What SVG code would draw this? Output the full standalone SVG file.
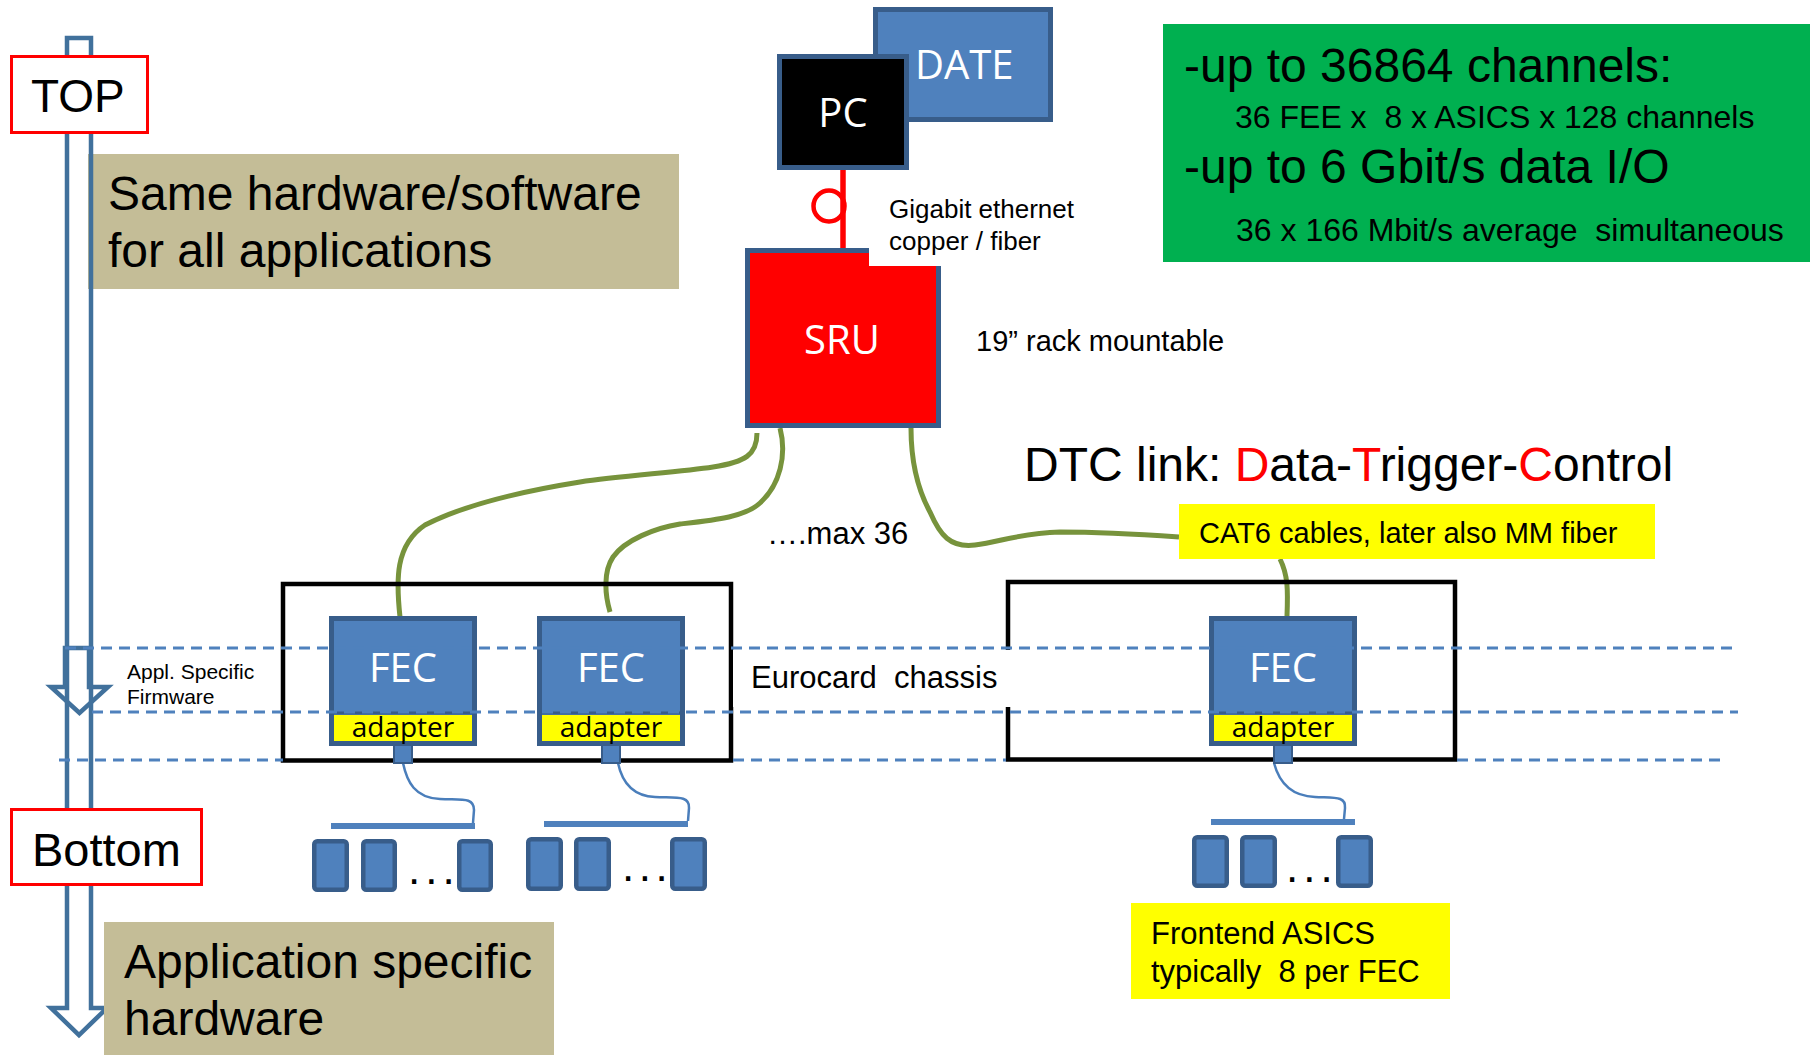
<svg xmlns="http://www.w3.org/2000/svg" width="1810" height="1055" viewBox="0 0 1810 1055">
<style>
.a{font-family:"Liberation Sans",Arial,sans-serif;fill:#000}
.c{font-family:"Open Sans","Noto Sans",sans-serif}
.wt{fill:#fff}
.r{fill:#FF0000}
.box{fill:#4F81BD;stroke:#385D8A;stroke-width:5}
.chip{fill:#4F81BD;stroke:#385D8A;stroke-width:4.5}
.conn{fill:#4F81BD;stroke:#385D8A;stroke-width:2}
.chassis{fill:none;stroke:#000;stroke-width:4.5}
.cable{fill:none;stroke:#77933C;stroke-width:5}
.wire{fill:none;stroke:#4A7EBB;stroke-width:2.5}
.dash{stroke:#4F81BD;stroke-width:3;stroke-dasharray:11 7;fill:none}
.lbl{fill:#fff;stroke:#FF0000;stroke-width:3}
.tan{fill:#C4BD97}
.bus{fill:#4F81BD}
.yel{fill:#FFFF00}
.pre{white-space:pre}
.arrow{fill:none;stroke:#41719C;stroke-width:4.5}
</style>
<rect width="1810" height="1055" fill="#fff"/>

<g id="note-same">
<rect class="tan" x="88" y="154" width="591" height="135"/>
<text class="a" x="108" y="210" font-size="48">Same hardware/software</text>
<text class="a" x="108" y="267" font-size="48">for all applications</text>
</g>

<g id="axis-arrow">
<path class="arrow" d="M67,38 H91 V1008 H107 L79,1035 L51,1008 H67 Z"/>
</g>

<g id="firmware-arrow">
<path class="arrow" d="M65,648 H89 V687 H108 L79.5,713 L51,687 H65 Z"/>
<text class="a" x="127" y="679" font-size="21">Appl. Specific</text>
<text class="a" x="127" y="704" font-size="21">Firmware</text>
</g>

<g id="note-app">
<rect class="tan" x="104" y="922" width="450" height="133"/>
<text class="a" x="124" y="978" font-size="48">Application specific</text>
<text class="a" x="124" y="1035" font-size="48">hardware</text>
</g>

<g id="top-label">
<rect class="lbl" x="11.5" y="56.5" width="136" height="76"/>
<text class="a" x="31" y="112" font-size="46">TOP</text>
</g>

<g id="bottom-label">
<rect class="lbl" x="11.5" y="809.5" width="190" height="75"/>
<text class="a" x="32" y="866" font-size="47">Bottom</text>
</g>

<g id="specs">
<rect x="1163" y="24" width="647" height="238" fill="#00B050"/>
<text class="a" x="1184" y="82" font-size="48">-up to 36864 channels:</text>
<text class="a pre" x="1235" y="128" font-size="32">36 FEE x  8 x ASICS x 128 channels</text>
<text class="a" x="1184" y="183" font-size="48">-up to 6 Gbit/s data I/O</text>
<text class="a pre" x="1236" y="241" font-size="32">36 x 166 Mbit/s average  simultaneous</text>
</g>

<g id="connectors">
<line x1="843" y1="170" x2="843" y2="252" stroke="#FF0000" stroke-width="5.5"/>
<circle cx="829" cy="206" r="15.5" fill="none" stroke="#FF0000" stroke-width="4.5"/>
<path class="cable" d="M757,433 C757,455 745,462 713,467 C680,472 620,476 580,482 C530,490 470,502 425,525 C395,545 396,580 400,617"/>
<path class="cable" stroke-width="7" d="M780,428 C787,455 780,485 760,503 C745,517 715,520 680,524 C655,528 625,540 613,557 C603,572 605,595 610,612"/>
<path class="cable" d="M911,428 C911,460 918,490 930,512 C940,535 950,548 975,545 C1000,542 1020,533 1060,532 C1100,532 1150,535 1179,537"/>
<path class="cable" d="M1280,559 C1288,575 1288,590 1287,616"/>
<path class="wire" d="M403,763 C407,782 415,798 440,799 C462,800 474,797 474,810 L473,823"/>
<path class="wire" d="M618,763 C622,782 632,796 655,797 C675,798 690,795 689,808 L688,821"/>
<path class="wire" d="M1274,763 C1279,782 1290,796 1315,797 C1335,798 1346,796 1345,808 L1344,819"/>
</g>

<g id="date">
<rect class="box" x="875.5" y="9.5" width="175" height="110"/>
<text class="c wt" x="915" y="79" font-size="40">DATE</text>
</g>

<g id="pc">
<rect x="779.5" y="56.5" width="127" height="111" fill="#000" stroke="#385D8A" stroke-width="5"/>
<text class="c wt" x="843" y="127" font-size="40" text-anchor="middle">PC</text>
</g>

<g id="sru">
<rect x="747.5" y="250.5" width="191" height="175" fill="#FF0000" stroke="#385D8A" stroke-width="5"/>
<text class="c wt" x="842" y="354" font-size="40" text-anchor="middle">SRU</text>
</g>

<g id="gigabit-label">
<rect x="869" y="190" width="215" height="76" fill="#fff"/>
<text class="a" x="889" y="218" font-size="26">Gigabit ethernet</text>
<text class="a" x="889" y="250" font-size="26">copper / fiber</text>
</g>

<g id="rack-label">
<text class="a" x="976" y="351" font-size="29">19” rack mountable</text>
</g>

<g id="dtc-label">
<text class="a" x="1024" y="481" font-size="48">DTC link: <tspan class="r">D</tspan>ata-<tspan class="r">T</tspan>rigger-<tspan class="r">C</tspan>ontrol</text>
</g>

<g id="cat6-label">
<rect class="yel" x="1179" y="504" width="476" height="55"/>
<text class="a" x="1199" y="543" font-size="29">CAT6 cables, later also MM fiber</text>
</g>

<g id="max-label">
<text class="a" x="767" y="544" font-size="31">….max 36</text>
</g>

<g id="chassis-1">
<rect class="chassis" x="283" y="584" width="448" height="176.5"/>
</g>
<g id="chassis-2">
<rect class="chassis" x="1008" y="582" width="447" height="177.5"/>
</g>

<g id="fec-1">
<rect class="box" x="331.5" y="618.5" width="143" height="125"/>
<rect class="yel" x="334" y="715" width="138" height="26"/>
<line x1="331" y1="713" x2="475" y2="713" stroke="#385D8A" stroke-width="3"/>
<text class="c wt" x="403" y="682" font-size="40" text-anchor="middle">FEC</text>
<text class="c" x="403" y="737" font-size="28" text-anchor="middle" fill="#000">adapter</text>
<rect class="conn" x="394" y="745" width="18" height="18"/>
</g>
<g id="fec-2">
<rect class="box" x="539.5" y="618.5" width="143" height="125"/>
<rect class="yel" x="542" y="715" width="138" height="26"/>
<line x1="539" y1="713" x2="683" y2="713" stroke="#385D8A" stroke-width="3"/>
<text class="c wt" x="611" y="682" font-size="40" text-anchor="middle">FEC</text>
<text class="c" x="611" y="737" font-size="28" text-anchor="middle" fill="#000">adapter</text>
<rect class="conn" x="602" y="745" width="18" height="18"/>
</g>
<g id="fec-3">
<rect class="box" x="1211.5" y="618.5" width="143" height="125"/>
<rect class="yel" x="1214" y="715" width="138" height="26"/>
<line x1="1211" y1="713" x2="1355" y2="713" stroke="#385D8A" stroke-width="3"/>
<text class="c wt" x="1283" y="682" font-size="40" text-anchor="middle">FEC</text>
<text class="c" x="1283" y="737" font-size="28" text-anchor="middle" fill="#000">adapter</text>
<rect class="conn" x="1274" y="745" width="18" height="18"/>
</g>

<g id="eurocard-label">
<rect x="733" y="650" width="278" height="57" fill="#fff"/>
<text class="a pre" x="751" y="688" font-size="31">Eurocard  chassis</text>
</g>

<g id="levels">
<line class="dash" x1="65" y1="648" x2="1738" y2="648"/>
<line class="dash" x1="92" y1="712" x2="1738" y2="712"/>
<line class="dash" x1="59" y1="760" x2="283" y2="760"/>
<line class="dash" x1="733" y1="760" x2="1006" y2="760"/>
<line class="dash" x1="1457" y1="760" x2="1722" y2="760"/>
</g>

<g id="asics-1">
<rect class="bus" x="331" y="823" width="144" height="6"/>
<rect class="chip" x="314.25" y="841.25" width="32.5" height="48.5" rx="3"/>
<rect class="chip" x="363.25" y="841.25" width="31.5" height="48.5" rx="3"/>
<rect class="chip" x="459.25" y="841.25" width="31.5" height="48.5" rx="3"/>
<text class="a" x="408" y="884" font-size="44" letter-spacing="5">...</text>
</g>
<g id="asics-2">
<rect class="bus" x="544" y="821" width="144" height="6"/>
<rect class="chip" x="528.25" y="839.25" width="32.5" height="49.5" rx="3"/>
<rect class="chip" x="576.25" y="839.25" width="32.5" height="49.5" rx="3"/>
<rect class="chip" x="672.25" y="839.25" width="32.5" height="49.5" rx="3"/>
<text class="a" x="622" y="881" font-size="44" letter-spacing="4.5">...</text>
</g>
<g id="asics-3">
<rect class="bus" x="1211" y="819" width="144" height="6"/>
<rect class="chip" x="1194.25" y="837.25" width="32.5" height="48.5" rx="3"/>
<rect class="chip" x="1242.25" y="837.25" width="32.5" height="48.5" rx="3"/>
<rect class="chip" x="1338.25" y="837.25" width="32.5" height="48.5" rx="3"/>
<text class="a" x="1286" y="882" font-size="44" letter-spacing="5">...</text>
</g>

<g id="asics-label">
<rect class="yel" x="1131" y="903" width="319" height="96"/>
<text class="a" x="1151" y="944" font-size="31">Frontend ASICS</text>
<text class="a pre" x="1151" y="982" font-size="31">typically  8 per FEC</text>
</g>
</svg>
